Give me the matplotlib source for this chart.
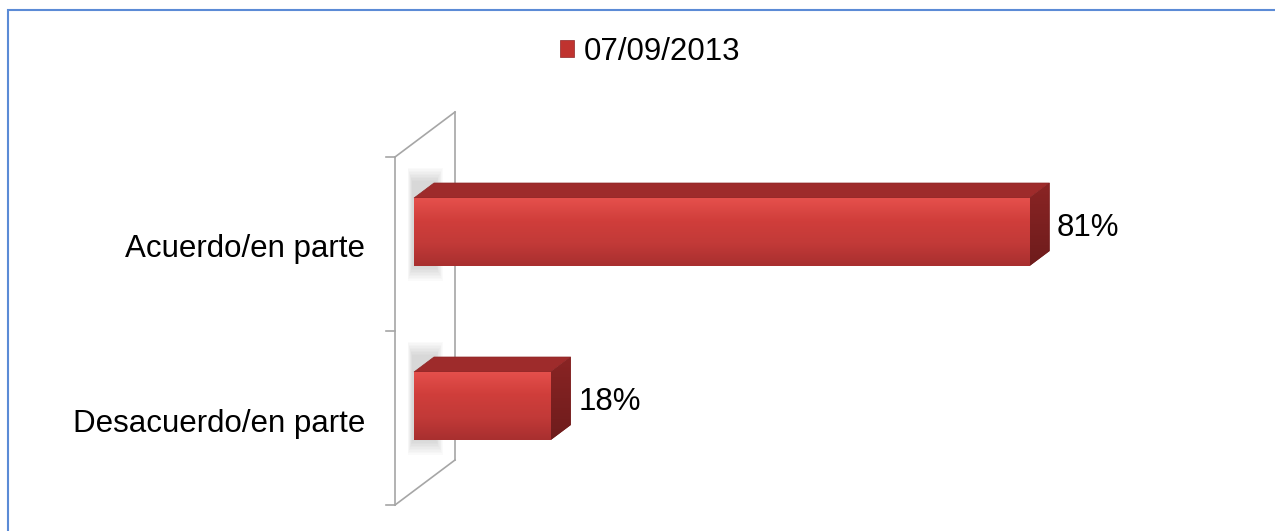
import numpy as np
import matplotlib
import matplotlib.pyplot as plt
from matplotlib.patches import Polygon, Rectangle, Patch
from matplotlib.colors import LinearSegmentedColormap

plt.rcParams['font.family'] = ['Liberation Sans', 'DejaVu Sans']

categories = ["Acuerdo/en parte", "Desacuerdo/en parte"]
values = [81, 18]
value_labels = ["81%", "18%"]
series_name = "07/09/2013"

W, H = 1275, 531
fig = plt.figure(figsize=(12.75, 5.31), dpi=100)
ax = fig.add_axes([0, 0, 1, 1])

PX = 7.6      # pixels per percent
X0 = 414      # pixel of value 0
PY = 174      # pixels per category
Y0 = 157      # pixel of top category boundary

xlim = (-X0 / PX, (W - X0) / PX)
ylim = (-0.5 + (H - Y0) / PY, -0.5 - Y0 / PY)

ddx = 20 / PX
ddy = -15 / PY
bar_h = 68 / PY
ypos = np.arange(len(categories)) - 12 / PY

# wall (3D back plane)
wall_x = -19 / PX
wall_dx = 60 / PX
wall_dy = -45 / PY
wall_col = '#a6a6a6'
ax.plot([wall_x, wall_x], [-0.5, 1.5], color=wall_col, lw=1.2, zorder=1)
ax.plot([wall_x + wall_dx, wall_x + wall_dx], [-0.5 + wall_dy, 1.5 + wall_dy], color=wall_col, lw=1.2, zorder=1)
ax.plot([wall_x, wall_x + wall_dx], [-0.5, -0.5 + wall_dy], color=wall_col, lw=1.2, zorder=1)
ax.plot([wall_x, wall_x + wall_dx], [1.5, 1.5 + wall_dy], color=wall_col, lw=1.2, zorder=1)
for yt in [-0.5, 0.5, 1.5]:
    ax.plot([wall_x - 9 / PX, wall_x], [yt, yt], color=wall_col, lw=1.2, zorder=1)

bars = ax.barh(ypos, values, height=bar_h, left=0, color='none', edgecolor='none', zorder=4)

front_cmap = LinearSegmentedColormap.from_list('front', ['#e5504c', '#d03e3b', '#c23a38', '#a82f2f'])
side_cmap = LinearSegmentedColormap.from_list('side', ['#8a2424', '#6e1c1c'])

for i, (rect, v) in enumerate(zip(bars, values)):
    y0 = rect.get_y()
    y1 = y0 + rect.get_height()
    # soft shadow on wall
    for k in range(10):
        e = k * 1.5
        sh = Rectangle(((-2 - e * 0.3) / PX, y0 + ddy - (e + 2) / PY), (24 + e * 0.8) / PX,
                       (68 + 18 + 2 * e) / PY,
                       facecolor='#8c8c8c', alpha=0.035, edgecolor='none', zorder=2)
        ax.add_patch(sh)
    # top face
    top = Polygon([(0, y0), (v, y0), (v + ddx, y0 + ddy), (ddx, y0 + ddy)], closed=True,
                  facecolor='#9e2b2b', edgecolor='#8f2626', lw=0.5, zorder=3)
    ax.add_patch(top)
    # side face
    side = Polygon([(v, y0), (v + ddx, y0 + ddy), (v + ddx, y1 + ddy), (v, y1)], closed=True,
                   facecolor='#7a1f1f', edgecolor='none', zorder=3)
    ax.add_patch(side)
    grad_s = np.linspace(0, 1, 100).reshape(-1, 1)
    ims = ax.imshow(grad_s, cmap=side_cmap, extent=(v, v + ddx, y1, y0 + ddy), aspect='auto', zorder=3)
    ims.set_clip_path(side)
    # front face gradient
    grad = np.linspace(0, 1, 200).reshape(-1, 1)
    im = ax.imshow(grad, cmap=front_cmap, extent=(0, v, y1, y0), aspect='auto', zorder=4)
    im.set_clip_path(rect)
    # value label
    ax.text(v + 27.5 / PX, rect.get_y() + rect.get_height() / 2 + 4.5 / PY, value_labels[i],
            fontsize=22.5, ha='left', va='baseline', color='#000000', zorder=5)

for i, c in enumerate(categories):
    ax.text((365 - X0) / PX, i + 13.5 / PY, c, fontsize=22.5, ha='right', va='baseline', color='#000000')

ax.set_xlim(*xlim)
ax.set_ylim(*ylim)
ax.axis('off')

handle = Patch(facecolor='#c0332f', edgecolor='#8f2626', linewidth=0.5)
ax.legend([handle], [series_name], loc='center', bbox_to_anchor=(650 / W, 1 - 52 / H),
          bbox_transform=fig.transFigure, frameon=False, fontsize=22.5,
          handlelength=0.45, handleheight=0.45, handletextpad=0.32, borderpad=0)

border = Rectangle((8 / W, -0.1), 2.0, (H - 10) / H + 0.1, transform=fig.transFigure,
                   facecolor='none', edgecolor='#5b8bd6', linewidth=1.5, clip_on=False)
fig.patches.append(border)

fig.savefig('out.png', dpi=100)
